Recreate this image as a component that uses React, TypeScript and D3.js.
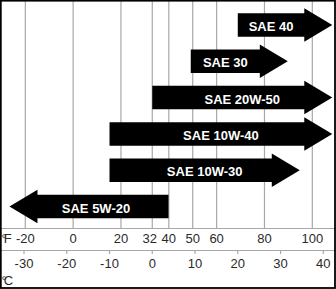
import React from "react";
import * as d3 from "d3";

// Oil grades, top to bottom
const grades = ["SAE 40", "SAE 30", "SAE 20W-50", "SAE 10W-40", "SAE 10W-30", "SAE 5W-20"];
// temperature range of each grade in °C: tail end and arrow tip
const tailC = [20, 9, 0, -10, -10, 3.8];
const tipC = [42.1, 31.7, 42.1, 42.1, 34.5, -33.4];

// axis ticks
const fTicks = [-20, 0, 20, 32, 40, 50, 60, 80, 100];
const fGrid = [-20, 0, 20, 40, 50, 60, 80, 100];
const cTicks = [-30, -20, -10, 0, 10, 20, 30, 40];
const freezingC = 0;

const W = 336;
const H = 289;
const fScale = d3.scaleLinear().domain([-20, 100]).range([25.3, 312.3]);
const cScale = d3.scaleLinear().domain([-30, 40]).range([24, 323.3]);
const yScale = d3.scalePoint<string>().domain(grades).range([25, 206.5]);

const axisF = 228.5;
const axisC = 250.5;
const bodyH = 23.5;
const headH = 33.5;
const headL = 28;
const font = "'Liberation Sans', Arial, sans-serif";
const gridColor = "#a8a8a8";
const textColor = "#2a2a2a";

const line = d3.line();

function arrowPath(x0: number, x1: number, y: number): string {
  const s = Math.sign(x1 - x0);
  const xb = x1 - s * headL;
  const pts: [number, number][] = [
    [x0, y - bodyH / 2],
    [xb, y - bodyH / 2],
    [xb, y - headH / 2],
    [x1, y],
    [xb, y + headH / 2],
    [xb, y + bodyH / 2],
    [x0, y + bodyH / 2],
  ];
  return line(pts) + "Z";
}

export default function App() {
  return (
    <svg
      width={W}
      height={H}
      style={{ position: "absolute", left: 0, top: 0, display: "block", background: "#fff" }}
    >
      {/* grid lines */}
      {fGrid.map((v) => (
        <line key={"g" + v} x1={fScale(v)} x2={fScale(v)} y1={0} y2={axisF} stroke={gridColor} strokeWidth={1.2} />
      ))}
      <line x1={cScale(freezingC)} x2={cScale(freezingC)} y1={0} y2={axisF} stroke={gridColor} strokeWidth={1.2} />
      <line x1={0} x2={W} y1={axisF} y2={axisF} stroke={gridColor} strokeWidth={1.2} />
      <line x1={0} x2={W} y1={axisC} y2={axisC} stroke={gridColor} strokeWidth={1.2} />
      {cTicks.map((v) => (
        <line key={"t" + v} x1={cScale(v)} x2={cScale(v)} y1={axisC} y2={axisC + 3.5} stroke={gridColor} strokeWidth={1.2} />
      ))}

      {/* arrows */}
      {grades.map((g, i) => {
        const y = yScale(g) as number;
        const x0 = cScale(tailC[i]);
        const x1 = cScale(tipC[i]);
        const s = Math.sign(x1 - x0);
        const xb = x1 - s * headL;
        const bodyLen = Math.abs(xb - x0);
        let cx = bodyLen < 100 ? (x0 + xb) / 2 : (x0 + x1) / 2;
        if (s < 0) cx = (x0 + xb) / 2 - headL / 4;
        return (
          <g key={g}>
            <path d={arrowPath(x0, x1, y)} fill="#000" />
            <text x={cx} y={y + 6} textAnchor="middle" fill="#fff" fontFamily={font} fontWeight="bold" fontSize={13}>
              {g}
            </text>
          </g>
        );
      })}

      {/* °F labels */}
      {fTicks.map((v) => (
        <text key={"f" + v} x={fScale(v)} y={243.3} textAnchor="middle" fill={textColor} fontFamily={font} fontSize={13}>
          {v}
        </text>
      ))}
      <text x={1.5} y={243.3} fill={textColor} fontFamily={font} fontSize={13} letterSpacing={-3}>
        °F
      </text>

      {/* °C labels */}
      {cTicks.map((v) => (
        <text key={"c" + v} x={cScale(v)} y={268.3} textAnchor="middle" fill={textColor} fontFamily={font} fontSize={13}>
          {v}
        </text>
      ))}
      <text x={1.5} y={285} fill={textColor} fontFamily={font} fontSize={13} letterSpacing={-3}>
        °C
      </text>

      {/* frame */}
      <rect x={0.8} y={0.7} width={334.2} height={287.3} fill="none" stroke="#000" strokeWidth={1.8} />
    </svg>
  );
}
